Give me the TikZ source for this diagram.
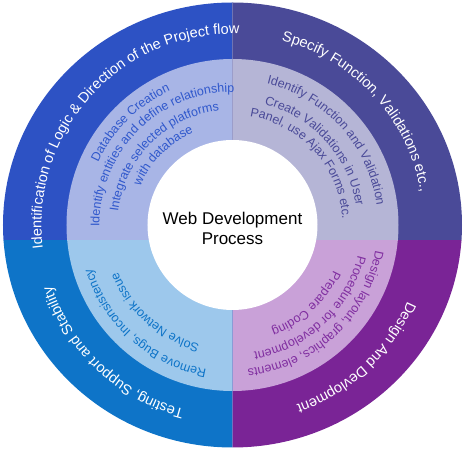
\documentclass[tikz,border=0pt]{standalone}
\usepackage{fontspec}
\setmainfont{Liberation Sans}
\usetikzlibrary{decorations.text}

\definecolor{logicdark}{RGB}{45,82,196}
\definecolor{logiclight}{RGB}{168,181,230}
\definecolor{logictext}{RGB}{48,88,204}
\definecolor{specdark}{RGB}{74,74,152}
\definecolor{speclight}{RGB}{181,181,214}
\definecolor{designdark}{RGB}{122,36,150}
\definecolor{designlight}{RGB}{201,161,216}
\definecolor{designtext}{RGB}{128,46,160}
\definecolor{testdark}{RGB}{14,116,200}
\definecolor{testlight}{RGB}{157,200,236}

\def\rmid{166pt}
\def\rin{85pt}
\def\cut{-16}

\def\outerfont{\fontsize{14.5}{17}\selectfont}
\def\innerfont{\fontsize{12.5}{15}\selectfont}

% text along a clockwise arc: radius, middle angle, style, text
\newcommand\ringtext[4]{%
  \path[#3, decoration={text={#4}}] ({#2+80}:#1) arc[start angle={#2+80}, end angle={#2-80}, radius=#1];}

\begin{document}
\begin{tikzpicture}[x=1pt,y=1pt]
    \tikzstyle{ring text}=[decorate, decoration={text along path, text align=center}]
    \tikzstyle{outer text}=[ring text, decoration={text color=white}]

    \useasboundingbox (-232.5,-224) rectangle (233.5,225);

    % Quadrants, outer and inner ring
    \foreach \xa/\ya/\xb/\yb/\dark/\light in {-240/\cut/0/240/logicdark/logiclight,
        0/\cut/240/240/specdark/speclight, 0/-240/240/\cut/designdark/designlight,
        -240/-240/0/\cut/testdark/testlight} {
        \begin{scope}
            \clip (\xa,\ya) rectangle (\xb,\yb);
            \fill[\dark] (0,0) ellipse[x radius=229.5pt, y radius=222.5pt];
            \fill[\light] (0,0) circle[radius=\rmid];
        \end{scope}
    }

    % Centre
    \fill[white] (0,0) circle[radius=\rin];
    \node[align=center, font=\fontsize{17}{20}\selectfont] (title) at (0,-3) {Web Development\\Process};

    % Outer ring labels
    \ringtext{191pt}{137.5}{outer text}{|\outerfont|Identification of Logic {\&} Direction of the Project flow}
    \ringtext{191pt}{42.5}{outer text}{|\outerfont|Specify Function, Validations etc.,}
    \ringtext{191pt}{-47}{outer text}{|\outerfont|Design And Devlopment}
    \ringtext{191pt}{227}{outer text}{|\outerfont|Testing, Support and Stability}

    % Inner ring labels
    \tikzstyle{logic item}=[ring text, decoration={text color=logictext}]
    \ringtext{148pt}{135}{logic item}{|\innerfont|Database Creation}
    \ringtext{133pt}{135}{logic item}{|\innerfont|Identify entities and define relationship}
    \ringtext{115pt}{135}{logic item}{|\innerfont|Integrate selected platforms}
    \ringtext{100pt}{135}{logic item}{|\innerfont|with database}

    \tikzstyle{spec item}=[ring text, decoration={text color=specdark}]
    \ringtext{145.5pt}{42}{spec item}{|\innerfont|Identify Function and Validation}
    \ringtext{125pt}{42}{spec item}{|\innerfont|Create Validations in User}
    \ringtext{110pt}{42}{spec item}{|\innerfont|Panel, use Ajax Forms etc.}

    \tikzstyle{design item}=[ring text, decoration={text color=designtext}]
    \ringtext{145pt}{-47}{design item}{|\innerfont|Design layout, graphics, elements}
    \ringtext{129pt}{-47}{design item}{|\innerfont|Procedure for development}
    \ringtext{111pt}{-47}{design item}{|\innerfont|Prepare Coding}

    \tikzstyle{test item}=[ring text, decoration={text color=testdark}]
    \ringtext{147pt}{228.5}{test item}{|\innerfont|Remove Bugs, Inconsistency}
    \ringtext{124pt}{228.5}{test item}{|\innerfont|Solve Network issue}
\end{tikzpicture}
\end{document}
